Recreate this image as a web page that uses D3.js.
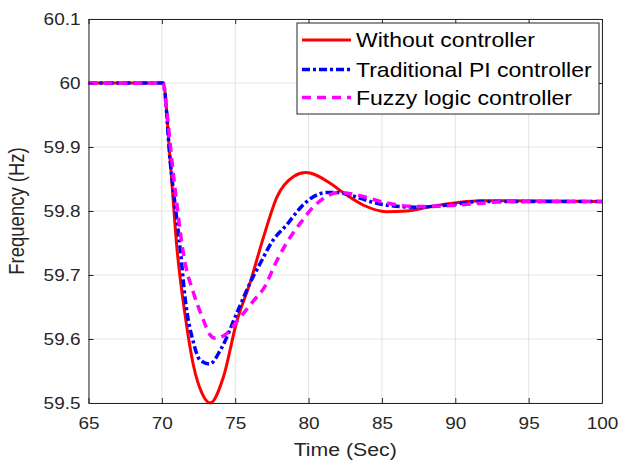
<!DOCTYPE html>
<html>
<head>
<meta charset="utf-8">
<script src="https://cdn.jsdelivr.net/npm/d3@7"></script>
<style>
  html, body { margin: 0; padding: 0; background: #fff; }
  svg { display: block; font-family: Arial, "Liberation Sans", sans-serif; }
</style>
</head>
<body>
<svg id="chart" width="620" height="462"></svg>
<script>
// ---- data ----
const xTicks = [65, 70, 75, 80, 85, 90, 95, 100];
const yTicks = [59.5, 59.6, 59.7, 59.8, 59.9, 60, 60.1];
const yTickLabels = ["59.5", "59.6", "59.7", "59.8", "59.9", "60", "60.1"];

const seriesNames = ["Without controller", "Traditional PI controller", "Fuzzy logic controller"];

const redTime = [65, 70, 70.08, 70.58, 71.04, 71.6, 72.17, 72.74, 73.3, 74.2, 75.1, 76.0, 76.94, 77.85, 78.98, 79.8, 81.5, 82.4, 83.75, 85.3, 86.7, 88.3, 90.1, 91.7, 93.7, 100];
const redFreq = [60, 60, 60, 59.875, 59.739, 59.635, 59.557, 59.515, 59.5, 59.541, 59.627, 59.687, 59.76, 59.822, 59.854, 59.86, 59.843, 59.828, 59.809, 59.799, 59.8, 59.807, 59.813, 59.816, 59.816, 59.815];

const blueTime = [65, 70, 70.08, 70.58, 71.26, 71.6, 72.17, 72.6, 73.26, 74.0, 75.1, 76.0, 76.7, 77.6, 78.5, 79.4, 80.3, 81.25, 82.0, 82.8, 84.65, 86.2, 87.4, 89.4, 91.7, 100];
const blueFreq = [60, 60, 60, 59.875, 59.739, 59.661, 59.593, 59.567, 59.561, 59.583, 59.64, 59.687, 59.718, 59.755, 59.778, 59.804, 59.822, 59.829, 59.829, 59.825, 59.812, 59.807, 59.806, 59.809, 59.815, 59.815];

const magTime = [65, 70, 70.08, 70.35, 70.7, 71.04, 71.5, 72.17, 72.74, 73.3, 73.65, 74.44, 75.1, 76.3, 76.94, 77.85, 78.5, 79.44, 80.35, 81.25, 82.0, 83.3, 84.9, 86.5, 87.6, 89.4, 91.7, 93.7, 100];
const magFreq = [60, 60, 60, 59.953, 59.875, 59.807, 59.729, 59.671, 59.635, 59.606, 59.601, 59.609, 59.627, 59.661, 59.679, 59.723, 59.75, 59.781, 59.807, 59.823, 59.829, 59.825, 59.815, 59.808, 59.807, 59.808, 59.812, 59.815, 59.815];

// ---- layout ----
const svg = d3.select("#chart");
const L = 88.5, R = 602, T = 19, B = 403;
const SX = 1.15; // horizontal text stretch
const axisColor = "#262626";

const x = d3.scaleLinear().domain([65, 100]).range([L, R]);
const y = d3.scaleLinear().domain([59.5, 60.1]).range([B, T]);

// grid
const grid = svg.append("g");
grid.selectAll("line.gx").data(xTicks).join("line")
  .attr("x1", d => x(d)).attr("x2", d => x(d)).attr("y1", T).attr("y2", B)
  .attr("stroke", "#e3e3e3").attr("stroke-width", 1);
grid.selectAll("line.gy").data(yTicks).join("line")
  .attr("y1", d => y(d)).attr("y2", d => y(d)).attr("x1", L).attr("x2", R)
  .attr("stroke", "#e3e3e3").attr("stroke-width", 1);

// lines
const line = d3.line().x(d => x(d[0])).y(d => y(d[1])).curve(d3.curveMonotoneX);
const series = [
  { name: seriesNames[0], t: redTime, v: redFreq, color: "#ff0000", width: 3, dash: null },
  { name: seriesNames[1], t: blueTime, v: blueFreq, color: "#0000ff", width: 3.5, dash: "8,3,3,3" },
  { name: seriesNames[2], t: magTime, v: magFreq, color: "#ff00ff", width: 3.5, dash: "9,6" }
];
const plot = svg.append("g");
series.forEach(s => {
  plot.append("path")
    .datum(s.t.map((t, i) => [t, s.v[i]]))
    .attr("d", line)
    .attr("fill", "none")
    .attr("stroke", s.color)
    .attr("stroke-width", s.width)
    .attr("stroke-dasharray", s.dash)
    .attr("stroke-linejoin", "round");
});

// axes
const tickLen = 5;
const xAxisB = d3.axisBottom(x).tickValues(xTicks).tickSizeInner(-tickLen).tickSizeOuter(0).tickPadding(14);
const xAxisT = d3.axisTop(x).tickValues(xTicks).tickSizeInner(-tickLen).tickSizeOuter(0).tickFormat("");
const yAxisL = d3.axisLeft(y).tickValues(yTicks).tickSizeInner(-tickLen).tickSizeOuter(0)
  .tickFormat((d, i) => yTickLabels[i]).tickPadding(13);
const yAxisR = d3.axisRight(y).tickValues(yTicks).tickSizeInner(-tickLen).tickSizeOuter(0).tickFormat("");

function styleAxis(g) {
  g.select(".domain").attr("stroke", axisColor).attr("stroke-width", 1);
  g.selectAll(".tick line").attr("stroke", axisColor);
  g.selectAll(".tick text").attr("fill", axisColor).attr("font-size", 16.5)
    .attr("font-family", "Arial, 'Liberation Sans', sans-serif");
}
const gxb = svg.append("g").attr("transform", `translate(0,${B})`).call(xAxisB).call(styleAxis);
gxb.selectAll(".tick text").attr("transform", `scale(${SX},1)`);
svg.append("g").attr("transform", `translate(0,${T})`).call(xAxisT).call(styleAxis);
const gyl = svg.append("g").attr("transform", `translate(${L},0)`).call(yAxisL).call(styleAxis);
gyl.selectAll(".tick text").attr("x", -8 / SX).attr("transform", `scale(${SX},1)`);
svg.append("g").attr("transform", `translate(${R},0)`).call(yAxisR).call(styleAxis);

// axis labels
svg.append("text")
  .attr("transform", `translate(${(L + R) / 2},456) scale(${SX},1)`)
  .attr("text-anchor", "middle").attr("font-size", 18.5).attr("fill", axisColor)
  .text("Time (Sec)");
svg.append("text")
  .attr("transform", `translate(24,${(T + B) / 2}) scale(${SX},1) rotate(-90)`)
  .attr("text-anchor", "middle").attr("font-size", 18.5).attr("fill", axisColor)
  .text("Frequency (Hz)");

// legend
const lg = svg.append("g");
lg.append("rect").attr("x", 297).attr("y", 23).attr("width", 302).attr("height", 91)
  .attr("fill", "#fff").attr("stroke", "#262626").attr("stroke-width", 1);
const rowY = [40, 69.5, 97.5];
series.forEach((s, i) => {
  lg.append("line").attr("x1", 302).attr("x2", 351).attr("y1", rowY[i]).attr("y2", rowY[i])
    .attr("stroke", s.color).attr("stroke-width", s.width).attr("stroke-dasharray", s.dash);
  lg.append("text")
    .attr("transform", `translate(356,${rowY[i] + 7}) scale(${SX},1)`)
    .attr("font-size", 20).attr("fill", "#000")
    .text(s.name);
});
</script>
</body>
</html>
